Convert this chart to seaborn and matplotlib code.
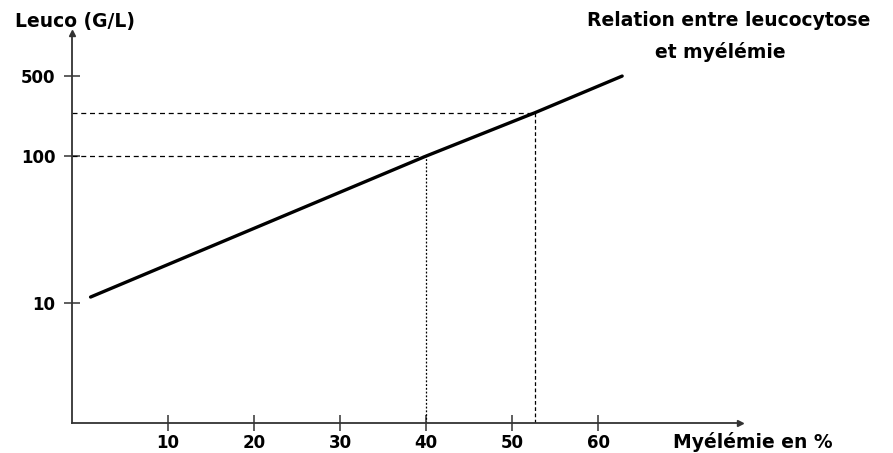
import numpy as np
import pandas as pd
import matplotlib
matplotlib.use("Agg")
import matplotlib.pyplot as plt
import seaborn as sns

# Relation leucocytose / myélémie
myelemie = [1, 40, 52.7, 62.8]          # %
leuco = [11, 100, 240, 500]              # G/L
ref_x = [40, 52.7]                       # repères
ref_y = [100, 240]
x_ticks = [10, 20, 30, 40, 50, 60]
y_ticks = [10, 100, 500]

sns.set_theme(style="white")
plt.rcParams["font.family"] = ["DejaVu Sans"]
plt.rcParams["text.color"] = "black"

# Axe vertical gradué en log, avec une décade supérieure resserrée
K = 0.7786


def fwd(v):
    lv = np.log10(np.clip(np.asarray(v, dtype=float), 1e-6, None))
    return np.where(lv <= 2, lv, 2 + (lv - 2) * K)


def inv(p):
    p = np.asarray(p, dtype=float)
    return np.where(p <= 2, 10 ** p, 10 ** (2 + (p - 2) / K))


fig = plt.figure(figsize=(8.93, 4.53), dpi=100)
ax = fig.add_axes([72 / 893, 30 / 453, (740 - 72) / 893, (423 - 33) / 453])
ax.set_yscale("function", functions=(fwd, inv))

df = pd.DataFrame({"x": myelemie, "y": leuco})
sns.lineplot(data=df, x="x", y="y", ax=ax, color="black", linewidth=2.4)

xmin, xmax = -1.16, 76.5
ymin, ymax = 1.53, 1189
ax.set_xlim(xmin, xmax)
ax.set_ylim(ymin, ymax)

styles = [(0, (1.5, 1.5)), (0, (3, 2))]
for xv, yv, ls in zip(ref_x, ref_y, styles):
    ax.plot([xmin, xv], [yv, yv], color="black", lw=0.9, ls=(0, (4, 3)))
    ax.plot([xv, xv], [ymin, yv], color="black", lw=0.9, ls=ls)

ax.set_xticks(x_ticks)
ax.set_xticklabels([str(t) for t in x_ticks])
ax.set_yticks(y_ticks)
ax.set_yticklabels([str(t) for t in y_ticks])
ax.yaxis.set_minor_locator(matplotlib.ticker.NullLocator())
ax.xaxis.set_minor_locator(matplotlib.ticker.NullLocator())

for s in ["top", "right"]:
    ax.spines[s].set_visible(False)
for s in ["left", "bottom"]:
    ax.spines[s].set_color("#333333")
    ax.spines[s].set_linewidth(1.3)

ax.tick_params(axis="both", which="major", bottom=True, left=True,
               direction="inout", length=12, width=1.1,
               color="#333333", labelsize=12, pad=2, labelcolor="black")
ax.tick_params(axis="y", pad=6)
for lab in ax.get_xticklabels() + ax.get_yticklabels():
    lab.set_fontweight("bold")
ax.set_xlabel("")
ax.set_ylabel("")

# flèches au bout des axes
ax.plot(1, 0, marker=">", color="#333333", ms=4, transform=ax.transAxes, clip_on=False)
ax.plot(0, 1, marker="^", color="#333333", ms=4, transform=ax.transAxes, clip_on=False)

tkw = dict(fontsize=13.5, fontweight="bold", va="center", color="black")
fig.text(15 / 893, 1 - 22 / 453, "Leuco (G/L)", ha="left", **tkw)
fig.text(729 / 893, 1 - 20 / 453, "Relation entre leucocytose", ha="center", **tkw)
fig.text(720 / 893, 1 - 52 / 453, "et myélémie", ha="center", **tkw)
fig.text(753 / 893, 1 - 442 / 453, "Myélémie en %", ha="center", **tkw)

fig.savefig("out.png", dpi=100)
